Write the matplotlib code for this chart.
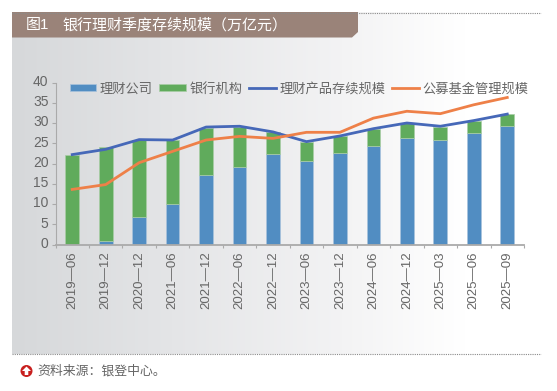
import numpy as np
import matplotlib
matplotlib.use('Agg')
import matplotlib.pyplot as plt
from matplotlib.patches import Polygon, Circle
from matplotlib.transforms import ScaledTranslation

plt.rcParams['font.family'] = ['Liberation Sans', 'Noto Sans CJK SC']

dates = ['2019-06', '2019-12', '2020-12', '2021-06', '2021-12', '2022-06', '2022-12',
         '2023-06', '2023-12', '2024-06', '2024-12', '2025-03', '2025-06', '2025-09']
wealth_co = [0, 0.8, 6.7, 10, 17.2, 19.1, 22.3, 20.7, 22.5, 24.4, 26.3, 25.8, 27.5, 29.3]
bank = [22.2, 23.3, 19.2, 15.8, 11.6, 9.9, 5.4, 4.6, 4.2, 4.1, 3.7, 3.3, 3.1, 2.9]
total = [22.2, 23.5, 25.9, 25.8, 29.0, 29.2, 27.8, 25.4, 26.8, 28.6, 30.0, 29.2, 30.6, 32.2]
public_fund = [13.6, 14.8, 20.2, 23.0, 25.8, 26.7, 26.2, 27.7, 27.7, 31.2, 32.9, 32.3, 34.5, 36.3]

W, H = 557, 391
fig = plt.figure(figsize=(W / 100, H / 100), dpi=100)

# background panel, in pixel coordinates
bg = fig.add_axes([0, 0, 1, 1])
bg.axis('off')
grad = np.linspace(0, 1, 256).reshape(1, -1)
cmap = matplotlib.colors.LinearSegmentedColormap.from_list(
    'panel', [(0, '#d6d8da'), (0.3, '#e4e5e7'), (0.62, '#f3f3f4'), (0.85, '#ffffff'), (1, '#ffffff')])
bg.imshow(grad, extent=[12, 545, 354, 12], aspect='auto', cmap=cmap)
bg.set_xlim(0, W)
bg.set_ylim(H, 0)
bg.add_patch(Polygon([(12, 12), (358, 12), (358, 32), (352, 37.5), (12, 37.5)],
                     closed=True, color='#9a8379', lw=0))
bg.plot([12, 541], [12.5, 12.5], color='#8a8a8a', lw=0.8, ls=(0, (1, 1)))
bg.plot([12, 541], [354, 354], color='#8a8a8a', lw=0.8, ls=(0, (1, 1)))
bg.text(26, 25.5, '图1', color='white', fontsize=10.8, va='center')
bg.text(62, 25.5, '银行理财季度存续规模（万亿元）', color='white', fontsize=10.8, va='center')
bg.add_patch(Circle((26.5, 371), 6, color='#c8201f', lw=0))
bg.add_patch(Polygon([(26.5, 366.5), (31, 371), (28.3, 371), (28.3, 375), (24.7, 375), (24.7, 371), (22, 371)],
                     closed=True, color='white', lw=0))
bg.text(37, 371, '资料来源：银登中心。', color='#666666', fontsize=9.3, va='center')

# main chart
ax = fig.add_axes([55.5 / W, 1 - 244.5 / H, (524 - 55.5) / W, (244.5 - 82.5) / H])
ax.patch.set_alpha(0)
x = np.arange(len(dates))
b1 = ax.bar(x, wealth_co, width=0.41, color='#518dc2', edgecolor='#a9c3dc', lw=0.5, label='理财公司')
b2 = ax.bar(x, bank, width=0.41, bottom=wealth_co, color='#60ab5c', edgecolor='#a9cda6', lw=0.5, label='银行机构')
l1, = ax.plot(x, total, color='#4668b8', lw=2.0, label='理财产品存续规模')
l2, = ax.plot(x, public_fund, color='#ee8048', lw=2.0, label='公募基金管理规模')

ax.set_xlim(-0.5, len(dates) - 0.5)
ax.set_ylim(0, 40)
ax.set_yticks(range(0, 41, 5))
ax.set_xticks(x)
ax.set_xticklabels([d.replace('-', '—') for d in dates], rotation=90, fontsize=9.5, color='#666666')
ax.tick_params(axis='x', length=0, pad=5)
ax.set_xticks(np.arange(-0.5, len(dates)), minor=True)
ax.tick_params(axis='x', which='minor', length=2.5, color='#aaaaaa', width=0.8)
ax.tick_params(axis='y', length=3, color='#aaaaaa', width=0.8, labelsize=10, labelcolor='#666666', pad=2)
# y labels sit a little above their ticks in the original
for lab in ax.get_yticklabels():
    lab.set_transform(lab.get_transform() + ScaledTranslation(0, 1.5 / 72, fig.dpi_scale_trans))
for s in ['top', 'right']:
    ax.spines[s].set_visible(False)
ax.spines['left'].set_color('#aaaaaa')
ax.spines['bottom'].set_color('#aaaaaa')
ax.spines['bottom'].set_linewidth(1.3)

ax.legend(handles=[b1, b2, l1, l2], loc='upper left', bbox_to_anchor=(0.03, 1.0), ncol=4, frameon=False,
          fontsize=9.5, labelcolor='#666666', columnspacing=0.55, handlelength=2.0, handleheight=0.4,
          handletextpad=0.25, borderaxespad=0, borderpad=0)

fig.savefig('out.png', dpi=100)
